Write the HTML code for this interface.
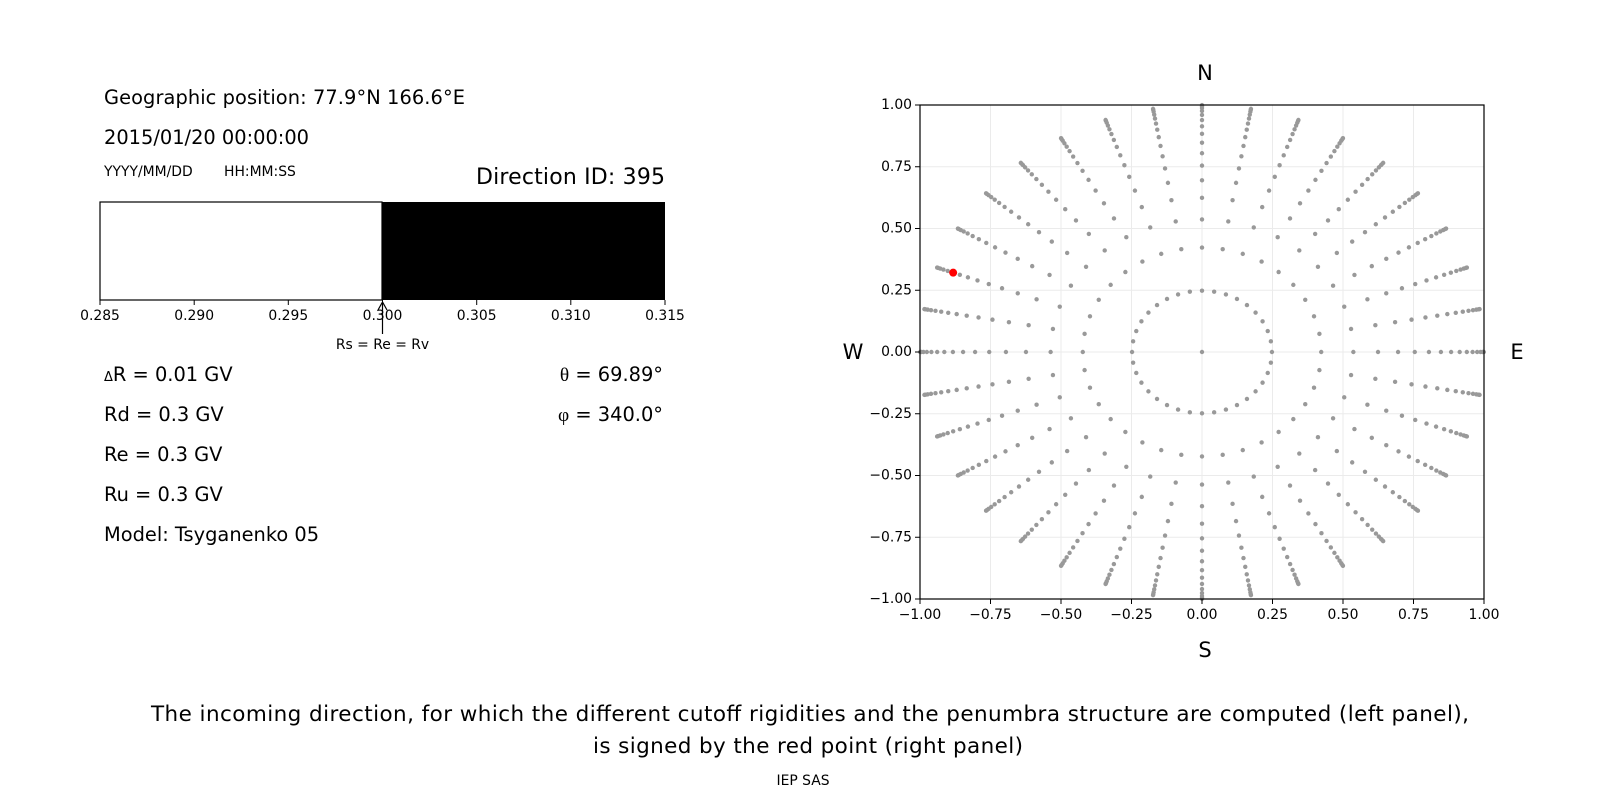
<!DOCTYPE html>
<html><head><meta charset="utf-8"><style>
html,body{margin:0;padding:0;background:#fff;}
svg{display:block;font-family:"DejaVu Sans","Liberation Sans",sans-serif;}
</style></head><body>
<svg id="s" width="1600" height="800" viewBox="0 0 1600 800" xmlns="http://www.w3.org/2000/svg">
<rect width="1600" height="800" fill="#fff"/>
<text x="104" y="104" font-size="19.4" textLength="361">Geographic position: 77.9°N 166.6°E</text>
<text x="104" y="144" font-size="19.4">2015/01/20 00:00:00</text>
<text x="104" y="176" font-size="13.9">YYYY/MM/DD</text>
<text x="224" y="176" font-size="13.9">HH:MM:SS</text>
<text x="665" y="184" font-size="22" text-anchor="end" textLength="189">Direction ID: 395</text>
<rect x="100" y="202" width="282" height="98" fill="#fff" stroke="#000" stroke-width="1.2"/>
<rect x="382" y="202" width="283" height="98" fill="#000"/>
<g stroke="#000" stroke-width="1">
<line x1="100" y1="300" x2="100" y2="305"/><line x1="194.2" y1="300" x2="194.2" y2="305"/><line x1="288.3" y1="300" x2="288.3" y2="305"/><line x1="382.5" y1="300" x2="382.5" y2="305"/><line x1="476.7" y1="300" x2="476.7" y2="305"/><line x1="570.8" y1="300" x2="570.8" y2="305"/><line x1="665" y1="300" x2="665" y2="305"/>
</g>
<g font-size="13.9" text-anchor="middle">
<text x="100" y="320">0.285</text><text x="194.2" y="320">0.290</text><text x="288.3" y="320">0.295</text><text x="382.5" y="320">0.300</text><text x="476.7" y="320">0.305</text><text x="570.8" y="320">0.310</text><text x="665" y="320">0.315</text>
</g>
<line x1="382.5" y1="334" x2="382.5" y2="303" stroke="#000" stroke-width="1.2"/>
<path d="M378 310 L382.5 302 L387 310" fill="none" stroke="#000" stroke-width="1.2"/>
<text x="382.5" y="349" font-size="13.9" text-anchor="middle">Rs = Re = Rv</text>
<g font-size="19.4">
<text x="104" y="381"><tspan font-size="13">Δ</tspan>R = 0.01 GV</text>
<text x="104" y="421">Rd = 0.3 GV</text>
<text x="104" y="461">Re = 0.3 GV</text>
<text x="104" y="501">Ru = 0.3 GV</text>
<text x="104" y="541">Model: Tsyganenko 05</text>
<text x="663" y="381" text-anchor="end"><tspan font-family="Liberation Serif,serif">θ</tspan> = 69.89°</text>
<text x="663" y="421" text-anchor="end"><tspan font-family="Liberation Serif,serif">φ</tspan> = 340.0°</text>
</g>
<g id="grid" stroke="#ebebeb" stroke-width="1"></g>
<g id="pts"></g>
<rect x="920" y="105" width="564" height="494" fill="none" stroke="#000" stroke-width="1.2"/>
<g id="ticks" font-size="13.9"></g>
<g font-size="21">
<text x="1205" y="80" text-anchor="middle">N</text>
<text x="1205" y="657" text-anchor="middle">S</text>
<text x="853" y="359" text-anchor="middle">W</text>
<text x="1517" y="359" text-anchor="middle">E</text>
</g>
<g font-size="21.5" text-anchor="middle">
<text x="810" y="721" textLength="1318">The incoming direction, for which the different cutoff rigidities and the penumbra structure are computed (left panel),</text>
<text x="808" y="753" textLength="430">is signed by the red point (right panel)</text>
</g>
<text x="803" y="785" font-size="13.9" text-anchor="middle">IEP SAS</text>
</svg>
<script>
var NS="http://www.w3.org/2000/svg";
var L=920,R=1484,T=105,B=599,cx=(L+R)/2,cy=(T+B)/2,sx=(R-L)/2,sy=(B-T)/2;
function el(n,a,p){var e=document.createElementNS(NS,n);for(var k in a)e.setAttribute(k,a[k]);p.appendChild(e);return e;}
var g=document.getElementById('grid'),tk=document.getElementById('ticks'),pts=document.getElementById('pts');
for(var i=0;i<=8;i++){var v=-1+i*0.25;var x=cx+v*sx,y=cy-v*sy;
el('line',{x1:x,y1:T,x2:x,y2:B},g);el('line',{x1:L,y1:y,x2:R,y2:y},g);
el('line',{x1:x,y1:B,x2:x,y2:B+5,stroke:'#000'},tk);el('line',{x1:L-5,y1:y,x2:L,y2:y,stroke:'#000'},tk);
var s=(v<0?'\u2212':'')+Math.abs(v).toFixed(2);
var t=el('text',{x:x,y:B+20,'text-anchor':'middle'},tk);t.textContent=s;
var t2=el('text',{x:L-8,y:y+4,'text-anchor':'end'},tk);t2.textContent=s;}
el('circle',{cx:cx,cy:cy,r:2.2,fill:'#999'},pts);
for(var k=0;k<16;k++){var c=1-(k+0.5)/16,r=Math.sqrt(1-c*c);
for(var j=0;j<36;j++){var a=j*10*Math.PI/180;
el('circle',{cx:cx+r*Math.cos(a)*sx,cy:cy-r*Math.sin(a)*sy,r:2.2,fill:'#999'},pts);}}
var rc=Math.sin(69.89*Math.PI/180),ra=160*Math.PI/180;
el('circle',{cx:cx+rc*Math.cos(ra)*sx,cy:cy-rc*Math.sin(ra)*sy,r:4,fill:'#f00'},pts);
</script>
</body></html>
